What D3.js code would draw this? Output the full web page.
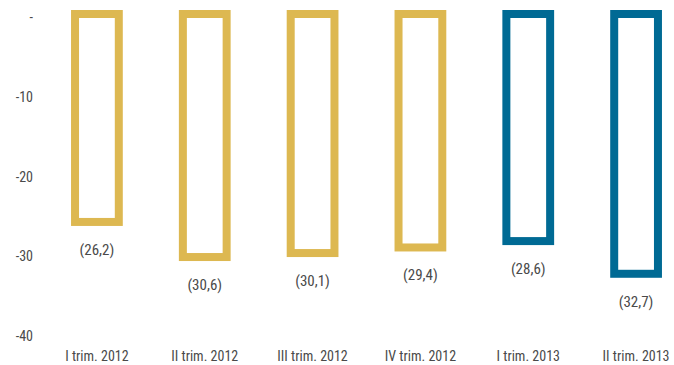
<!DOCTYPE html>
<html><head><meta charset="utf-8">
<script src="https://cdn.jsdelivr.net/npm/d3@7/dist/d3.min.js"></script>
<style>body{margin:0;background:#fff}svg{display:block}text{font-family:"Liberation Sans Narrow","Arial Narrow","Roboto Condensed","Liberation Sans",sans-serif;fill:#4a4a4a}</style>
</head><body><svg id="c" width="674" height="365"></svg>
<script>
const categories = ["I trim. 2012","II trim. 2012","III trim. 2012","IV trim. 2012","I trim. 2013","II trim. 2013"];
const values = [-26.2,-30.6,-30.1,-29.4,-28.6,-32.7];
const labels = ["(26,2)","(30,6)","(30,1)","(29,4)","(28,6)","(32,7)"];
const colors = ["#DDB851","#DDB851","#DDB851","#DDB851","#006A94","#006A94"];
const yTicks = [0,-10,-20,-30,-40];
const yTickLabels = ["-","-10","-20","-30","-40"];

const svg = d3.select("#c");
const y = d3.scaleLinear().domain([0,-40]).range([17,336]);
const x = d3.scaleBand().domain(categories).range([43,690]).paddingInner(0.52).paddingOuter(0.26);
const sw = 8;

svg.selectAll(".yl").data(yTicks).enter().append("text")
  .attr("x",33).attr("y",d=>y(d)+5).attr("text-anchor","end").attr("font-size",14)
  .text((d,i)=>yTickLabels[i]);

const g = svg.selectAll(".bar").data(values).enter().append("g");
g.append("rect")
  .attr("x",(d,i)=>x(categories[i])+sw/2)
  .attr("y",y(0)-7+sw/2)
  .attr("width",x.bandwidth()-sw)
  .attr("height",d=>y(d)-(y(0)-7)-sw)
  .attr("fill","none").attr("stroke",(d,i)=>colors[i]).attr("stroke-width",sw);
g.append("text")
  .attr("x",(d,i)=>x(categories[i])+x.bandwidth()/2)
  .attr("y",d=>y(d)+29).attr("text-anchor","middle").attr("font-size",15)
  .text((d,i)=>labels[i]);

svg.selectAll(".xl").data(categories).enter().append("text")
  .attr("x",d=>x(d)+x.bandwidth()/2).attr("y",361).attr("text-anchor","middle").attr("font-size",14)
  .text(d=>d);
</script></body></html>
